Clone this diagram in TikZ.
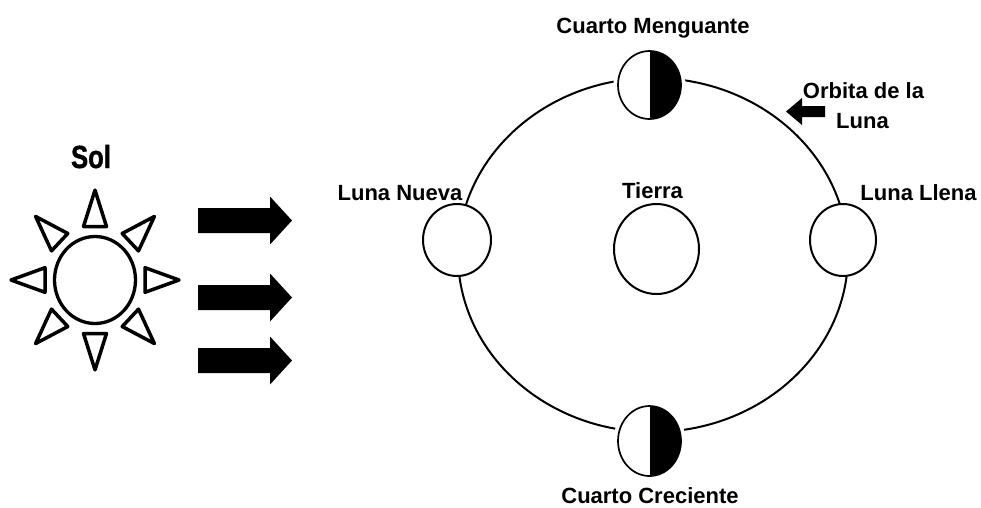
\documentclass[tikz,border=0pt]{standalone}
\usepackage{fontspec}
\setmainfont{Liberation Sans}
\newfontfamily\solfont[FakeStretch=0.8, FakeBold=1.2]{Liberation Sans Bold}
\usetikzlibrary{shapes.geometric}
\begin{document}
\begin{tikzpicture}[x=1pt,y=-1pt,
  lbl/.style={font=\fontsize{22}{26}\selectfont\bfseries, inner sep=0pt, anchor=base},
  body/.style={ellipse, draw, line width=2pt, fill=white, inner sep=0pt},
  quarter/.style={body, line width=1.7pt, preaction={draw=white, line width=9pt},
    path picture={\fill[black] (path picture bounding box.north) rectangle (path picture bounding box.south east);}},
  ray/.style={draw, line width=3.5pt, line join=round},
  beam/.style={fill=black}]
\useasboundingbox (0,0) rectangle (981,507);
\fill[white] (0,0) rectangle (981,507);

% orbit
\draw[line width=2pt] (653,255) ellipse [x radius=195, y radius=177];

% moons and earth
\node[body, minimum width=68pt, minimum height=72pt] (nueva) at (457,240) {};
\node[body, minimum width=66pt, minimum height=72pt] (llena) at (843,240) {};
\node[body, minimum width=85pt, minimum height=90pt] (tierra) at (656.5,249) {};
\node[quarter, minimum width=63pt, minimum height=68pt] (mengu) at (649.5,85) {};
\node[quarter, minimum width=63pt, minimum height=70pt] (creci) at (649.5,441) {};

% sun
\node[ellipse, draw, line width=3.3pt, inner sep=0pt, minimum width=81pt, minimum height=87pt] (sun) at (95,280) {};
\foreach \a in {0,45,...,315}
  \draw[ray, shift={(95,280)}, yscale=1.07, rotate=\a] (50,-11.5) -- (84,0) -- (50,11.5) -- cycle;

% sunlight arrows
\foreach \y in {220.5,297.5,360.5}
  \fill[beam] (198,\y-12.5) -- (270,\y-12.5) -- (270,\y-24) -- (292,\y) -- (270,\y+24) -- (270,\y+12.5) -- (198,\y+12.5) -- cycle;

% orbit pointer
\fill[beam] (825,106) -- (802,106) -- (802,98) -- (786,111.5) -- (802,125) -- (802,117) -- (825,117) -- cycle;

% labels
\node[lbl] (cm) at (653,33) {Cuarto Menguante};
\node[lbl] (cc) at (650,503) {Cuarto Creciente};
\node[lbl] (ln) at (400,200) {Luna Nueva};
\node[lbl] (ll) at (918.5,200) {Luna Llena};
\node[lbl] (ti) at (652.5,198.5) {Tierra};
\node[lbl] (or1) at (863.5,98) {Orbita de la};
\node[lbl] (or2) at (862.5,128) {Luna};
\node[lbl, font=\solfont\fontsize{32}{36}\selectfont] (sol) at (91,168) {Sol};
\end{tikzpicture}
\end{document}
